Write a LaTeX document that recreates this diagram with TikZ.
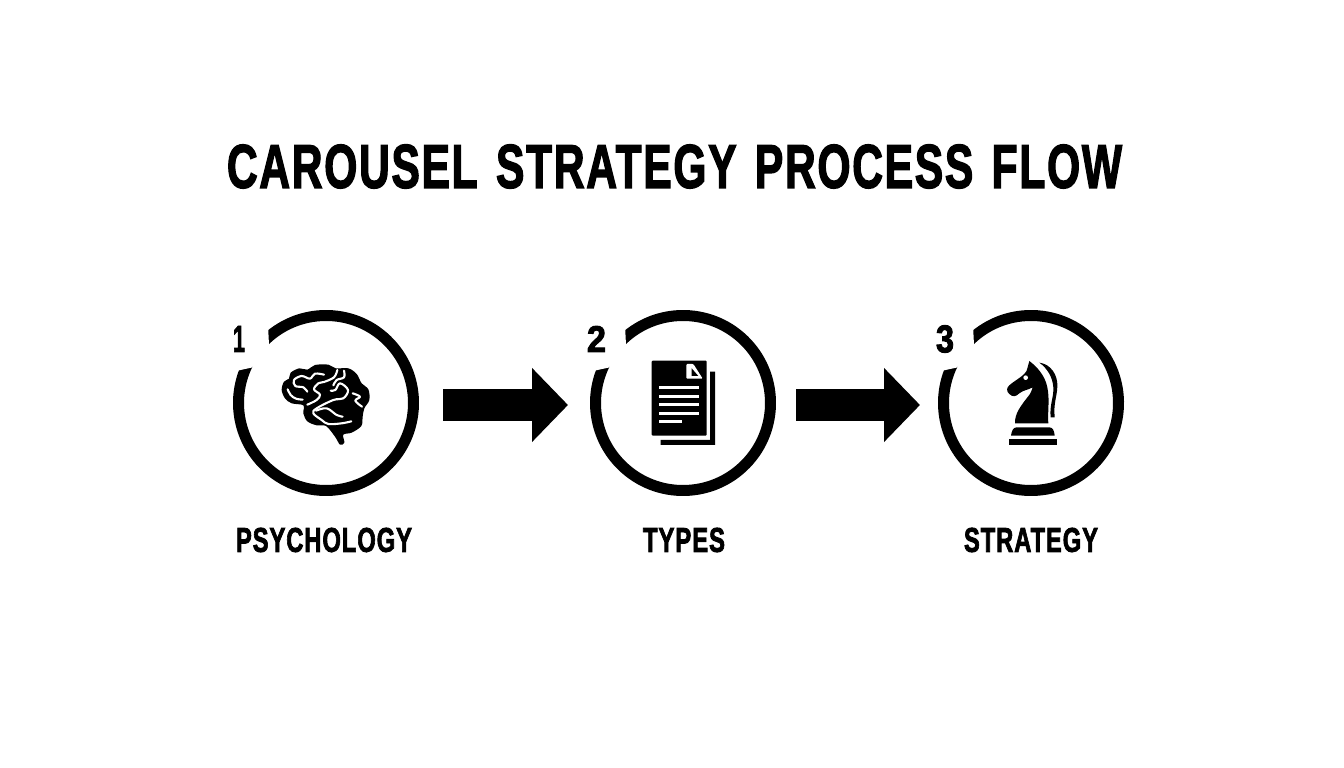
\documentclass[tikz,border=0pt]{standalone}
\usepackage{fontspec}
\usepackage{graphicx}
\usetikzlibrary{arrows.meta}
\newfontfamily\labfont[LetterSpace=4,WordSpace=1.35,BoldFeatures={FakeBold=2.6}]{Liberation Sans}
\newcommand{\fit}[3]{\resizebox{#1pt}{#2pt}{\labfont\bfseries #3}}
\tikzset{
  ringhub/.style={circle,minimum size=175pt,inner sep=0pt,outer sep=0pt},
  ring/.style={line width=11pt,black},
  gapmask/.style={white},
  txt/.style={inner sep=0pt,outer sep=0pt,text=black},
  blockarrow/.style={line width=32pt,black,-{Triangle[length=36pt,width=72pt]}},
  sulcus/.style={white,line width=2.1pt,line cap=round,line join=round},
  icon/.style={xscale=1/3,yscale=-1/3}
}
\newcommand{\gapat}[1]{\fill[gapmask,shift={(#1)}] (-104,88) -- (-58.5,88) -- (-57,58) -- (-74,35.5) -- (-90,32) -- (-104,31) -- cycle;}
\begin{document}
\begin{tikzpicture}[x=1pt,y=1pt]
\useasboundingbox (0,0) rectangle (1344,768);
\fill[white] (0,0) rectangle (1344,768);
% title
\node[txt] (title) at (674.5,601.5) {\fit{895}{43}{CAROUSEL STRATEGY PROCESS FLOW}};
% rings
\node[ringhub] (c1) at (326,365) {};
\node[ringhub] (c2) at (683,365) {};
\node[ringhub] (c3) at (1031,365) {};
\draw[ring] (c1.136) arc[start angle=136,delta angle=-343,radius=87.5pt];
\draw[ring] (c2.136) arc[start angle=136,delta angle=-343,radius=87.5pt];
\draw[ring] (c3.136) arc[start angle=136,delta angle=-343,radius=87.5pt];
\gapat{c1.center}
\gapat{c2.center}
\gapat{c3.center}
% numbers
\node[txt] (n1) at (239,429) {\fit{12}{26}{1}};
\node[txt] (n2) at (596.5,429) {\fit{19}{26}{2}};
\node[txt] (n3) at (945,429) {\fit{18}{27}{3}};
% labels
\node[txt] (l1) at (324,228) {\fit{176}{24}{PSYCHOLOGY}};
\node[txt] (l2) at (684,228) {\fit{82}{24}{TYPES}};
\node[txt] (l3) at (1031,228) {\fit{134}{24}{STRATEGY}};
% arrows
\draw[blockarrow,shorten <=29.5pt,shorten >=27.5pt] ([yshift=-2pt]c1.east) -- ([yshift=-2pt]c2.west);
\draw[blockarrow,shorten <=25.5pt,shorten >=23.5pt] ([yshift=-2pt]c2.east) -- ([yshift=-2pt]c3.west);
% brain
\begin{scope}[shift={(220,468)},icon]
\fill[black] plot[smooth cycle,tension=.55] coordinates {
 (185,270) (192,245) (207,236) (212,218) (238,205) (262,209) (285,195) (325,194)
 (347,205) (385,205) (410,222) (425,250) (445,268) (448,300) (433,325) (428,350)
 (424,378) (395,398) (370,404) (373,428) (360,434) (345,410) (318,378) (290,376)
 (262,364) (250,340) (250,316) (215,310) (195,295)};
\draw[sulcus] plot[smooth,tension=.6] coordinates {(203,268) (212,285) (228,296) (248,299)};
\draw[sulcus] plot[smooth,tension=.6] coordinates {(262,275) (250,262) (226,258) (222,240) (245,228) (270,236) (285,221) (312,224)};
\draw[sulcus] plot[smooth,tension=.6] coordinates {(352,210) (342,232) (312,246) (295,250) (282,268) (300,284) (290,300) (262,314)};
\draw[sulcus] plot[smooth,tension=.6] coordinates {(332,272) (346,270) (360,250) (384,270) (370,295) (340,300) (290,325) (280,340) (305,360) (325,372) (365,370) (394,364)};
\draw[sulcus] plot[smooth,tension=.6] coordinates {(372,212) (372,232) (350,240) (340,256)};
\draw[sulcus] plot[smooth,tension=.6] coordinates {(398,280) (420,290) (406,302) (426,320)};
\draw[sulcus] plot[smooth,tension=.6] coordinates {(288,332) (320,325) (350,345) (368,350)};
\end{scope}
% documents
\begin{scope}[shift={(580,468)},icon]
\fill[black] (390,215) -- (405,215) -- (405,435) -- (242,435) -- (242,420) -- (390,420) -- cycle;
\fill[black,rounded corners=1pt] (215,182) rectangle (380,407);
\fill[white] (237,258) rectangle (357,268);
\fill[white] (237,284) rectangle (357,294);
\fill[white] (237,309) rectangle (357,319);
\fill[white] (237,335) rectangle (357,345);
\fill[white] (237,360) rectangle (305,370);
\fill[white,rounded corners=1pt] (319,192) -- (340,192) -- (368,236) -- (319,236) -- cycle;
\fill[black] (335,205) -- (355,228) -- (335,228) -- cycle;
\end{scope}
% knight
\begin{scope}[shift={(930,468)},icon]
\fill[black] (236,418) rectangle (381,434);
\fill[black] (243,407) .. controls (245,392) and (250,382) .. (260,382) -- (358,382) .. controls (368,382) and (373,392) .. (374,407) -- cycle;
\fill[black] (255,370) .. controls (254,340) and (272,318) .. (300,282) .. controls (304,275) and (306,268) .. (308,262)
 .. controls (295,270) and (280,270) .. (268,280) .. controls (258,290) and (248,292) .. (238,282)
 .. controls (228,274) and (230,262) .. (238,256) .. controls (255,240) and (290,225) .. (292,205)
 -- (298,183) .. controls (318,198) and (345,225) .. (352,262) .. controls (360,300) and (352,340) .. (355,370) -- cycle;
\fill[white] (287,233) circle[radius=7];
\fill[black] (328,188) .. controls (362,192) and (384,225) .. (382,260) .. controls (381,290) and (370,310) .. (374,352)
 -- (362,352) .. controls (358,315) and (372,290) .. (370,262) .. controls (368,232) and (352,205) .. (328,188) -- cycle;
\end{scope}
\end{tikzpicture}
\end{document}
